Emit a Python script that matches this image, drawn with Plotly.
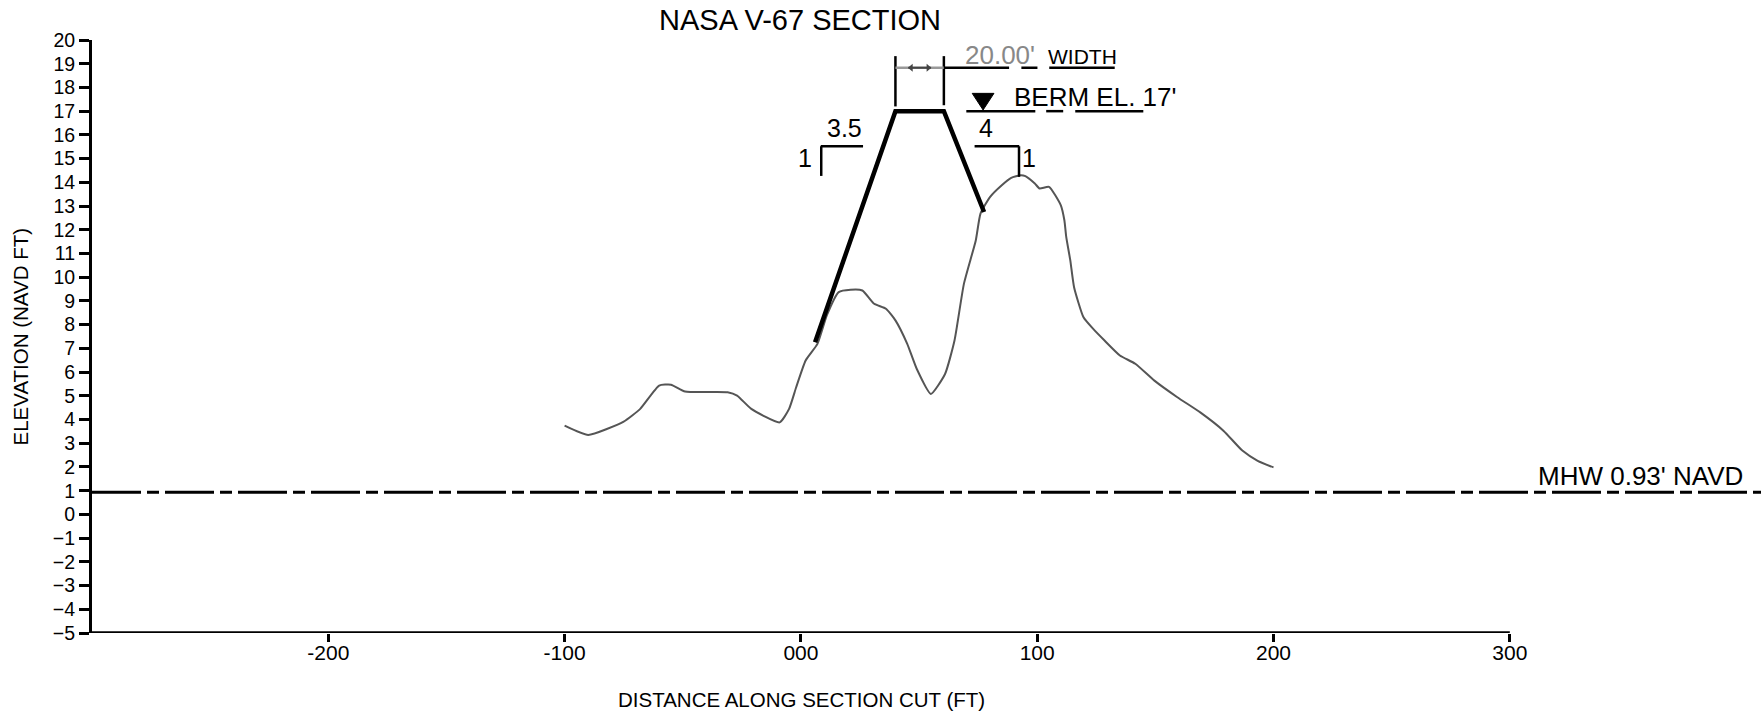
import plotly.graph_objects as go

# ---------------- data ----------------
profile_x = [-100, -90, -75, -68, -60, -55, -49, -31, -27, -21, -9, -5, -2, 2, 7, 11, 16, 21, 26, 31,
             36, 40, 45, 49, 55, 61, 65, 69, 74, 76, 80, 85, 89, 93, 95, 99, 101, 105, 110, 111.5,
             112.3, 114, 115.6, 119.6, 123.7, 128.5, 135, 141.5, 149.6, 159.3, 169, 178.8, 186.8, 193.3, 200]
profile_y = [3.74, 3.35, 3.91, 4.45, 5.43, 5.47, 5.18, 5.15, 5.01, 4.45, 3.88, 4.45, 5.36, 6.49, 7.19, 8.4, 9.37, 9.47, 9.44, 8.88,
             8.67, 8.18, 7.19, 6.14, 5.08, 5.92, 7.33, 9.73, 11.55, 12.68, 13.38, 13.88, 14.19, 14.3, 14.26, 13.95, 13.74, 13.81, 13.03, 12.4,
             11.69, 10.71, 9.58, 8.31, 7.82, 7.33, 6.7, 6.35, 5.64, 4.94, 4.3, 3.53, 2.69, 2.26, 1.98]

berm_x = [6, 40, 60.5, 77.5]
berm_y = [7.26, 17, 17, 12.75]

mhw_elev = 0.93
berm_elev = 17

x_range = [-300, 406.3]
y_range = [-5, 20]
x_tickvals = [-200, -100, 0, 100, 200, 300]
x_ticktext = ["-200", "-100", "000", "100", "200", "300"]
y_tickvals = list(range(-5, 21))

FONT = "Liberation Sans, Arial, sans-serif"
L, T, B = 92, 40, 78
W, H = 1761, 711
plot_w, plot_h = W - L, H - T - B

fig = go.Figure()

fig.add_trace(go.Scatter(x=profile_x, y=profile_y, mode="lines",
                         line=dict(color="#555555", width=2, shape="spline", smoothing=0.5),
                         hoverinfo="skip", showlegend=False))
fig.add_trace(go.Scatter(x=berm_x, y=berm_y, mode="lines",
                         line=dict(color="#000000", width=4.5),
                         hoverinfo="skip", showlegend=False))

shapes = []
# x axis line (only to 300)
shapes.append(dict(type="line", xref="x", yref="y", x0=-300, x1=300, y0=-5, y1=-5,
                   line=dict(color="black", width=3.3)))
# MHW dash-dot line
shapes.append(dict(type="line", xref="paper", yref="y", x0=0, x1=1, y0=mhw_elev, y1=mhw_elev,
                   line=dict(color="black", width=3, dash="49px,6px,12px,6px")))

# width dimension
dim_left, dim_right = 40, 60.5
shapes.append(dict(type="line", x0=dim_left, x1=dim_left, y0=17.2, y1=19.32, line=dict(color="black", width=2.5)))
shapes.append(dict(type="line", x0=dim_right, x1=dim_right, y0=17.25, y1=19.32, line=dict(color="black", width=2.5)))
shapes.append(dict(type="line", x0=dim_left, x1=dim_right, y0=18.83, y1=18.83, line=dict(color="#999999", width=2.5)))
shapes.append(dict(type="line", x0=45.5, x1=55, y0=18.83, y1=18.83, line=dict(color="#444444", width=2)))
shapes.append(dict(type="path", path="M 45.3 18.83 L 47.3 19.0 L 47.3 18.66 Z", fillcolor="#444444", line=dict(width=0)))
shapes.append(dict(type="path", path="M 55.2 18.83 L 53.2 19.0 L 53.2 18.66 Z", fillcolor="#444444", line=dict(width=0)))
for a, b in [(60.5, 88.1), (93.3, 100.1), (105.1, 132.8)]:
    shapes.append(dict(type="line", x0=a, x1=b, y0=18.83, y1=18.83, line=dict(color="black", width=2.5)))

# berm elevation underline
for a, b in [(70, 99.2), (103.8, 111), (116.1, 144.9)]:
    shapes.append(dict(type="line", x0=a, x1=b, y0=berm_elev, y1=berm_elev, line=dict(color="black", width=2.5)))
# inverted triangle
shapes.append(dict(type="path", path="M 72.5 17.75 L 81.7 17.75 L 77.1 17.05 Z",
                   fillcolor="black", line=dict(color="black", width=1)))

# slope brackets
shapes.append(dict(type="line", x0=8.4, x1=26.3, y0=15.52, y1=15.52, line=dict(color="black", width=2.5)))
shapes.append(dict(type="line", x0=8.6, x1=8.6, y0=15.52, y1=14.27, line=dict(color="black", width=2.5)))
shapes.append(dict(type="line", x0=73.5, x1=92.4, y0=15.52, y1=15.52, line=dict(color="black", width=2.5)))
shapes.append(dict(type="line", x0=92.3, x1=92.3, y0=15.52, y1=14.23, line=dict(color="black", width=2.5)))

for s in shapes:
    s.setdefault("xref", "x")
    s.setdefault("yref", "y")
    s["layer"] = "above"

annotations = []
def txt(x, y, text, size, color="black", xref="x", yref="y", **kw):
    d = dict(x=x, y=y, xref=xref, yref=yref, text=text, showarrow=False,
             font=dict(family=FONT, size=size, color=color), xanchor="center", yanchor="middle")
    d.update(kw)
    annotations.append(d)

# title and axis titles in paper coordinates (outside plot area)
txt((800 - L) / plot_w, 1 + (T - 19.7) / plot_h, "NASA V-67 SECTION", 29, xref="paper", yref="paper")
txt((801 - L) / plot_w, -(699 - (H - B)) / plot_h, "DISTANCE ALONG SECTION CUT (FT)", 20.5,
    xref="paper", yref="paper")
txt((20 - L) / plot_w, 7.5, "ELEVATION (NAVD FT)", 20.5, xref="paper", textangle=-90)

txt(84.3, 19.37, "20.00'", 26, color="#888888")
txt(119.0, 19.32, "WIDTH", 21)
txt(124.3, 17.58, "BERM EL. 17'", 26)
txt(18.5, 16.27, "3.5", 25)
txt(1.6, 15.02, "1", 25)
txt(78.2, 16.27, "4", 25)
txt(96.4, 15.02, "1", 25)
txt(355.4, 1.62, "MHW 0.93' NAVD", 26)

fig.update_layout(
    width=W, height=H,
    margin=dict(l=L, r=0, t=T, b=B, pad=0),
    paper_bgcolor="white", plot_bgcolor="white",
    showlegend=False,
    shapes=shapes, annotations=annotations,
    font=dict(family=FONT, color="black"),
    xaxis=dict(range=x_range, showgrid=False, zeroline=False, showline=False,
               tickmode="array", tickvals=x_tickvals, ticktext=x_ticktext,
               ticks="outside", ticklen=8, tickwidth=2.5, tickcolor="black",
               ticklabelstandoff=-7,
               tickfont=dict(family=FONT, size=21, color="black")),
    yaxis=dict(range=y_range, showgrid=False, zeroline=False, showline=True,
               linecolor="black", linewidth=3,
               tickmode="array", tickvals=y_tickvals,
               ticks="outside", ticklen=10, tickwidth=2.5, tickcolor="black",
               tickfont=dict(family=FONT, size=19.5, color="black")),
)

fig.write_html("out.html", config={"displayModeBar": False},
               post_script="document.body.style.margin='0';document.body.style.overflow='hidden';")
